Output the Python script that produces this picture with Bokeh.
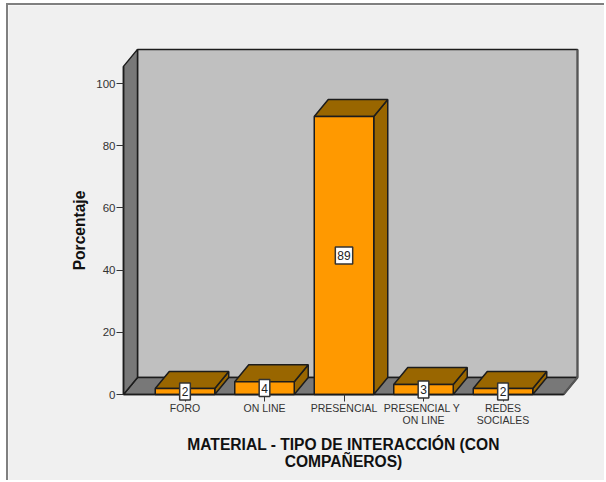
import math
from bokeh.plotting import figure
from bokeh.models import Range1d, FixedTicker, Label, LinearAxis
from bokeh.embed import file_html
from bokeh.resources import INLINE

categorias = ["FORO", "ON LINE", "PRESENCIAL", "PRESENCIAL  Y\nON LINE", "REDES\nSOCIALES"]
porcentajes = [1.9, 4.1, 89.4, 3.2, 1.9]
etiquetas = ["2", "4", "89", "3", "2"]
y_ticks = [0, 20, 40, 60, 80, 100]
titulo_x = "MATERIAL - TIPO DE INTERACCIÓN (CON\nCOMPAÑEROS)"
titulo_y = "Porcentaje"

W, H = 598, 477
PX_X = 79.5
PX_Y = 3.11
x_start = 1 - 176.5 / PX_X
x_end = x_start + W / PX_X
y_start = -88 / PX_Y
y_end = y_start + H / PX_Y
x0 = 1 - 61.5 / PX_X
DX = 14 / PX_X
DY = 17 / PX_Y
BAR_W = 59.5 / PX_X
FLOOR_W = 440 / PX_X
Y_TOP = 105.5

p = figure(width=W, height=H, output_backend="svg", toolbar_location=None,
           x_range=Range1d(x_start, x_end), y_range=Range1d(y_start, y_end),
           x_axis_location=None, y_axis_location=None,
           min_border=0, background_fill_color="#f0f0f0", border_fill_color="#f0f0f0")
p.styles = {"margin-left": "6px", "margin-top": "3px",
            "border-left": "2px solid #808080", "border-top": "2px solid #808080"}
p.grid.visible = False
p.outline_line_color = None

EDGE = "#1c1c1c"
xr = x0 + DX + FLOOR_W
p.patch([x0 + DX, xr, xr, x0 + DX], [DY, DY, Y_TOP + DY, Y_TOP + DY],
        fill_color="#c0c0c0", line_color=EDGE, line_width=1.5)
p.patch([x0, x0 + FLOOR_W, xr, x0 + DX], [0, 0, DY, DY],
        fill_color="#787878", line_color=EDGE, line_width=1.5)
p.patch([x0, x0 + DX, x0 + DX, x0], [0, DY, Y_TOP + DY, Y_TOP],
        fill_color="#787878", line_color=EDGE, line_width=1.5)
p.line([xr, xr, x0 + FLOOR_W], [Y_TOP + DY, DY, 0], line_color="#555555", line_width=2)

for i, v in enumerate(porcentajes):
    c = i + 1
    l, r = c - BAR_W / 2, c + BAR_W / 2
    p.patch([r, r + DX, r + DX, r], [0, DY, v + DY, v], fill_color="#996600",
            line_color=EDGE, line_width=1.5)
    p.patch([l, r, r + DX, l + DX], [v, v, v + DY, v + DY], fill_color="#996600",
            line_color=EDGE, line_width=1.5)
    p.patch([l, r, r, l], [0, 0, v, v], fill_color="#ff9900",
            line_color=EDGE, line_width=1.5)

xs = [i + 1 for i in range(len(porcentajes))]

ax = LinearAxis(fixed_location=0)
ax.ticker = FixedTicker(ticks=xs)
ax.major_label_overrides = {i + 1: c for i, c in enumerate(categorias)}
ax.major_label_text_font = "Liberation Sans"
ax.major_label_text_font_size = "10.5px"
ax.major_label_text_color = "#333333"
ax.major_label_text_line_height = 1.0
ax.major_label_standoff = 0
ax.major_tick_out = 7
ax.major_tick_in = 0
ax.major_tick_line_color = "#333333"
ax.major_tick_line_width = 1
ax.minor_tick_line_color = None
ax.axis_line_color = EDGE
ax.axis_line_width = 1.5
ax.bounds = (x0, x0 + FLOOR_W)
p.add_layout(ax, "below")

ay = LinearAxis(fixed_location=x0)
ay.ticker = FixedTicker(ticks=y_ticks)
ay.bounds = (0, Y_TOP)
ay.major_label_text_font = "Liberation Sans"
ay.major_label_text_font_size = "11.5px"
ay.major_label_text_color = "#333333"
ay.major_label_standoff = 1
ay.major_tick_out = 7
ay.major_tick_in = 0
ay.major_tick_line_color = "#333333"
ay.major_tick_line_width = 1
ay.minor_tick_line_color = None
ay.axis_line_color = EDGE
ay.axis_line_width = 1.5
p.add_layout(ay, "left")

for c, v, e in zip(xs, porcentajes, etiquetas):
    p.add_layout(Label(x=c, y=v / 2, text=e, text_font="Liberation Sans",
                       text_font_size="12px", text_align="center", text_baseline="middle",
                       text_color="#222222", background_fill_color="white",
                       border_line_color="#333333", border_line_width=1.5, padding=(2, 4)))

p.add_layout(Label(x=x0 + FLOOR_W / 2, y=-58 / PX_Y, text=titulo_x,
                   text_font="Liberation Sans", text_font_style="bold", text_font_size="15.6px",
                   text_color="#111111", text_align="center", text_baseline="middle",
                   text_line_height=1.0))
p.add_layout(Label(x=x0 - 44 / PX_X, y=164 / PX_Y, text=titulo_y, angle=math.pi / 2,
                   text_font="Liberation Sans", text_font_style="bold", text_font_size="15.6px",
                   text_color="#111111", text_align="center", text_baseline="middle"))

open("out.html", "w").write(file_html(p, INLINE))
